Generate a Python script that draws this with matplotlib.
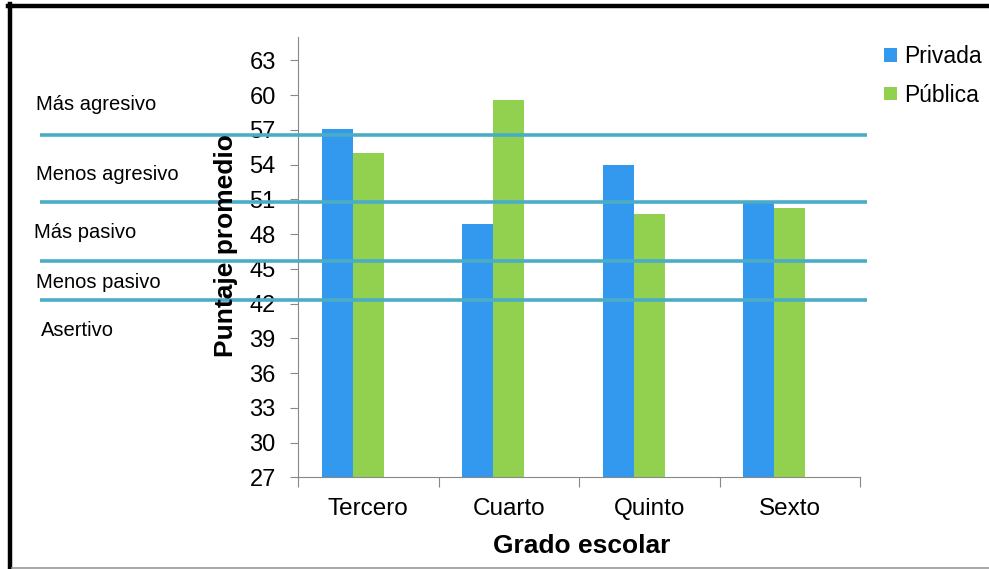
import matplotlib
matplotlib.use('Agg')
import matplotlib.pyplot as plt
from matplotlib.lines import Line2D
import numpy as np

# datos por grado escolar
grados = ["Tercero", "Cuarto", "Quinto", "Sexto"]
privada = [57.1, 48.9, 54.0, 50.8]
publica = [55.0, 59.6, 49.7, 50.3]

# cortes de la escala de asertividad
cortes = [56.6, 50.8, 45.7, 42.3]
niveles = ["Más agresivo", "Menos agresivo", "Más pasivo", "Menos pasivo", "Asertivo"]
niveles_y = [104, 174, 233, 282, 330]  # px desde arriba
niveles_x = [36, 36, 34, 36, 41]

yticks = list(range(27, 64, 3))

plt.rcParams['font.family'] = ['Liberation Sans', 'DejaVu Sans']

W, H = 989, 569
fig = plt.figure(figsize=(W / 100, H / 100), dpi=100)
ax = fig.add_axes([298 / W, 1 - 477.3 / H, 562 / W, (477.3 - 37.3) / H])

x = np.arange(len(grados))
ancho = 0.22
ax.bar(x - ancho, privada, ancho, color='#3399ee', label='Privada', zorder=2)
ax.bar(x, publica, ancho, color='#92d050', label='Pública', zorder=2)

ax.set_xlim(-0.5, 3.5)
ax.set_ylim(27, 65)
ax.set_yticks(yticks)
ax.tick_params(axis='y', labelsize=17, length=6, color='#888888', pad=10)
ax.set_xticks(np.arange(-0.5, 4, 1))
ax.set_xticklabels([])
ax.tick_params(axis='x', which='major', length=7, color='#888888')
ax.set_xticks(x, minor=True)
ax.set_xticklabels(grados, minor=True, fontsize=17.5)
ax.tick_params(axis='x', which='minor', length=0, pad=15)

for s in ['top', 'right']:
    ax.spines[s].set_visible(False)
for s in ['left', 'bottom']:
    ax.spines[s].set_color('#888888')

# líneas de corte, se salen del área del gráfico
ax.hlines(cortes, (40 - 298) / 562, (867 - 298) / 562,
          transform=ax.get_yaxis_transform(), colors='#4bacc6',
          linewidth=2.6, clip_on=False, zorder=3)

for txt, px, py in zip(niveles, niveles_x, niveles_y):
    fig.text(px / W, 1 - py / H, txt, fontsize=14.5, ha='left', va='center')

fig.text(226 / W, 1 - 246 / H, "Puntaje promedio", rotation=90, fontsize=19,
         fontweight='bold', ha='center', va='center')
fig.text(582 / W, 1 - 546 / H, "Grado escolar", fontsize=19,
         fontweight='bold', ha='center', va='center')

fig.legend(loc='upper left', bbox_to_anchor=(884 / W, 1 - 45 / H), frameon=False,
           fontsize=16.5, handlelength=0.55, handleheight=0.55,
           handletextpad=0.35, labelspacing=0.68, borderpad=0, borderaxespad=0)

# marco de la figura
fig.add_artist(Line2D([10 / W, 10 / W], [0, 1 - 3.5 / H], transform=fig.transFigure,
                      color='black', linewidth=3.2))
fig.add_artist(Line2D([8 / W, 1], [1 - 5.5 / H, 1 - 5.5 / H], transform=fig.transFigure,
                      color='black', linewidth=3.2))
fig.add_artist(Line2D([12 / W, 1], [1 - 567.5 / H, 1 - 567.5 / H], transform=fig.transFigure,
                      color='#999999', linewidth=1.2))

fig.savefig('out.png', dpi=100)
plt.close(fig)
